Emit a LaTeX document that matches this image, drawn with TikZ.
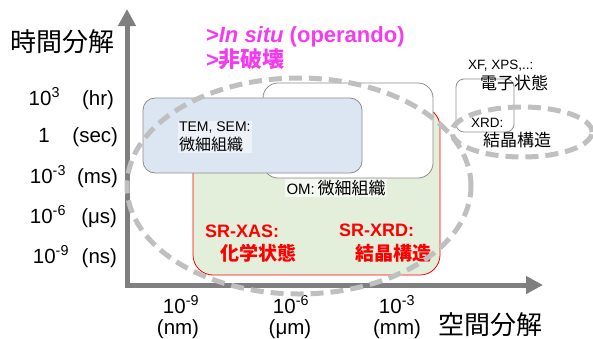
\documentclass[tikz,border=0pt]{standalone}
\usepackage{fontspec}
\setmainfont{Liberation Sans}
\newfontfamily\jp{Noto Sans CJK JP}
\usetikzlibrary{arrows.meta,shapes.geometric}
\definecolor{axisgray}{HTML}{7F7F7F}
\definecolor{dashgray}{HTML}{BFBFBF}
\definecolor{boxgray}{HTML}{8C8C8C}
\definecolor{bluefill}{HTML}{DCE6F2}
\definecolor{greenfill}{HTML}{E3EFDA}
\definecolor{mag}{HTML}{F43BF0}
\definecolor{redtxt}{HTML}{FF0000}
\tikzset{
  every node/.style={inner sep=0pt, outer sep=0pt},
  axisline/.style={draw=axisgray, line width=5pt, line join=miter,
    {Triangle[length=17pt,width=17pt]}-{Triangle[length=17pt,width=17pt]}},
  bluebox/.style={draw=boxgray, fill=bluefill, line width=0.8pt, rounded corners=12pt},
  ombox/.style={draw=boxgray, fill=white, line width=0.8pt, rounded corners=15pt},
  greenbox/.style={draw=redtxt, fill=greenfill, line width=0.8pt, rounded corners=20pt},
  smallbox/.style={draw=boxgray, line width=0.8pt, rounded corners=8pt},
  dashell/.style={draw=dashgray, ellipse, line width=5pt, dash pattern=on 13pt off 7pt},
  axlab/.style={font=\fontsize{20.5}{20.5}\selectfont, anchor=base, text height=14pt, text depth=0pt},
  unitlab/.style={font=\fontsize{20.5}{20.5}\selectfont, anchor=base, text height=15pt, text depth=3pt},
  jptitle/.style={font=\jp\fontsize{26}{26}\selectfont},
  magtxt/.style={text=mag, font=\bfseries\fontsize{22}{22}\selectfont, anchor=west},
  redlab/.style={text=redtxt, font=\bfseries\fontsize{18}{18}\selectfont},
  redjp/.style={text=redtxt, font=\jp\bfseries\fontsize{19}{19}\selectfont},
}
\begin{document}
\begin{tikzpicture}[x=1pt,y=-1pt]
\useasboundingbox (0,0) rectangle (593,338);

% boxes
\node[greenbox, minimum width=247pt, minimum height=168pt] (green) at (316.5,191) {};
\node[ombox, minimum width=170pt, minimum height=95pt] (om) at (348,130.5) {};
\node[bluebox, minimum width=219pt, minimum height=75pt] (blue) at (252.5,135.5) {};
\node[smallbox, minimum width=58pt, minimum height=53pt] (small) at (485,105.5) {};

% axes
\coordinate (ytop) at (127,9);
\coordinate (origin) at (127,285);
\coordinate (xend) at (543,285);
\draw[axisline] (ytop) -- (origin) -- (xend);

% axis titles
\node[jptitle] (ttitle) at (62,42) {時間分解};
\node[jptitle] (stitle) at (490,325) {空間分解};

% y labels
\node[axlab, anchor=base east] (y1n) at (60,105) {10\textsuperscript{3}};
\node[unitlab, anchor=base east] (y1u) at (114,105) {(hr)};
\node[axlab] (y2n) at (44,142) {1};
\node[unitlab, anchor=base east] (y2u) at (118,142) {(sec)};
\node[axlab, anchor=base east] (y3n) at (66,183) {10\textsuperscript{-3}};
\node[unitlab, anchor=base east] (y3u) at (118,183) {(ms)};
\node[axlab, anchor=base east] (y4n) at (66,223) {10\textsuperscript{-6}};
\node[unitlab, anchor=base east] (y4u) at (117,223) {(μs)};
\node[axlab, anchor=base east] (y5n) at (69,263) {10\textsuperscript{-9}};
\node[unitlab, anchor=base east] (y5u) at (117,263) {(ns)};

% x labels
\node[axlab] (x1n) at (181,313.5) {10\textsuperscript{-9}};
\node[unitlab] (x1u) at (178,334) {(nm)};
\node[axlab] (x2n) at (291,313.5) {10\textsuperscript{-6}};
\node[unitlab] (x2u) at (290,334) {(μm)};
\node[axlab] (x3n) at (397,313.5) {10\textsuperscript{-3}};
\node[unitlab] (x3u) at (397,334) {(mm)};

% magenta
\node[magtxt] (insitu) at (206,37) {>\textit{In situ} (operando)};
\node[magtxt] (nondes) at (206,59) {>{\jp\bfseries 非破壊}};

% TEM
\node[fill=white, fill opacity=0.5, text opacity=1, anchor=west, inner sep=1pt,
  align=left] (temlab) at (178,137) {{\fontsize{14}{14}\selectfont TEM, SEM:}\\[3pt]{\jp\fontsize{16}{16}\selectfont 微細組織}};

% OM
\node[fill=white, fill opacity=0.6, text opacity=1, anchor=west, inner sep=1.5pt] (omlab) at (285,188)
  {{\fontsize{15}{15}\selectfont OM:} {\jp\fontsize{17}{17}\selectfont 微細組織}};

% SR labels
\node[redlab, anchor=west] (xas) at (205,231) {SR-XAS:};
\node[redjp, anchor=west] (xasjp) at (220,253) {化学状態};
\node[redlab, anchor=west] (xrd) at (339,230) {SR-XRD:};
\node[redjp, anchor=west] (xrdjp) at (355,253) {結晶構造};

% right small
\node[anchor=west, font=\fontsize{13.5}{13.5}\selectfont] (xps) at (468,66) {XF, XPS,..:};
\node[anchor=west, font=\jp\fontsize{17}{17}\selectfont] (xpsjp) at (480,83) {電子状態};
\node[anchor=west, font=\fontsize{13.5}{13.5}\selectfont] (xrdb) at (471,123) {XRD:};
\node[anchor=west, font=\jp\fontsize{17}{17}\selectfont] (xrdbjp) at (483,140) {結晶構造};

% dashed ellipses
\node[dashell, minimum width=344pt, minimum height=216pt] (bigell) at (299,186) {};
\node[dashell, minimum width=140pt, minimum height=50pt] (smallell) at (522,132) {};
\end{tikzpicture}
\end{document}
